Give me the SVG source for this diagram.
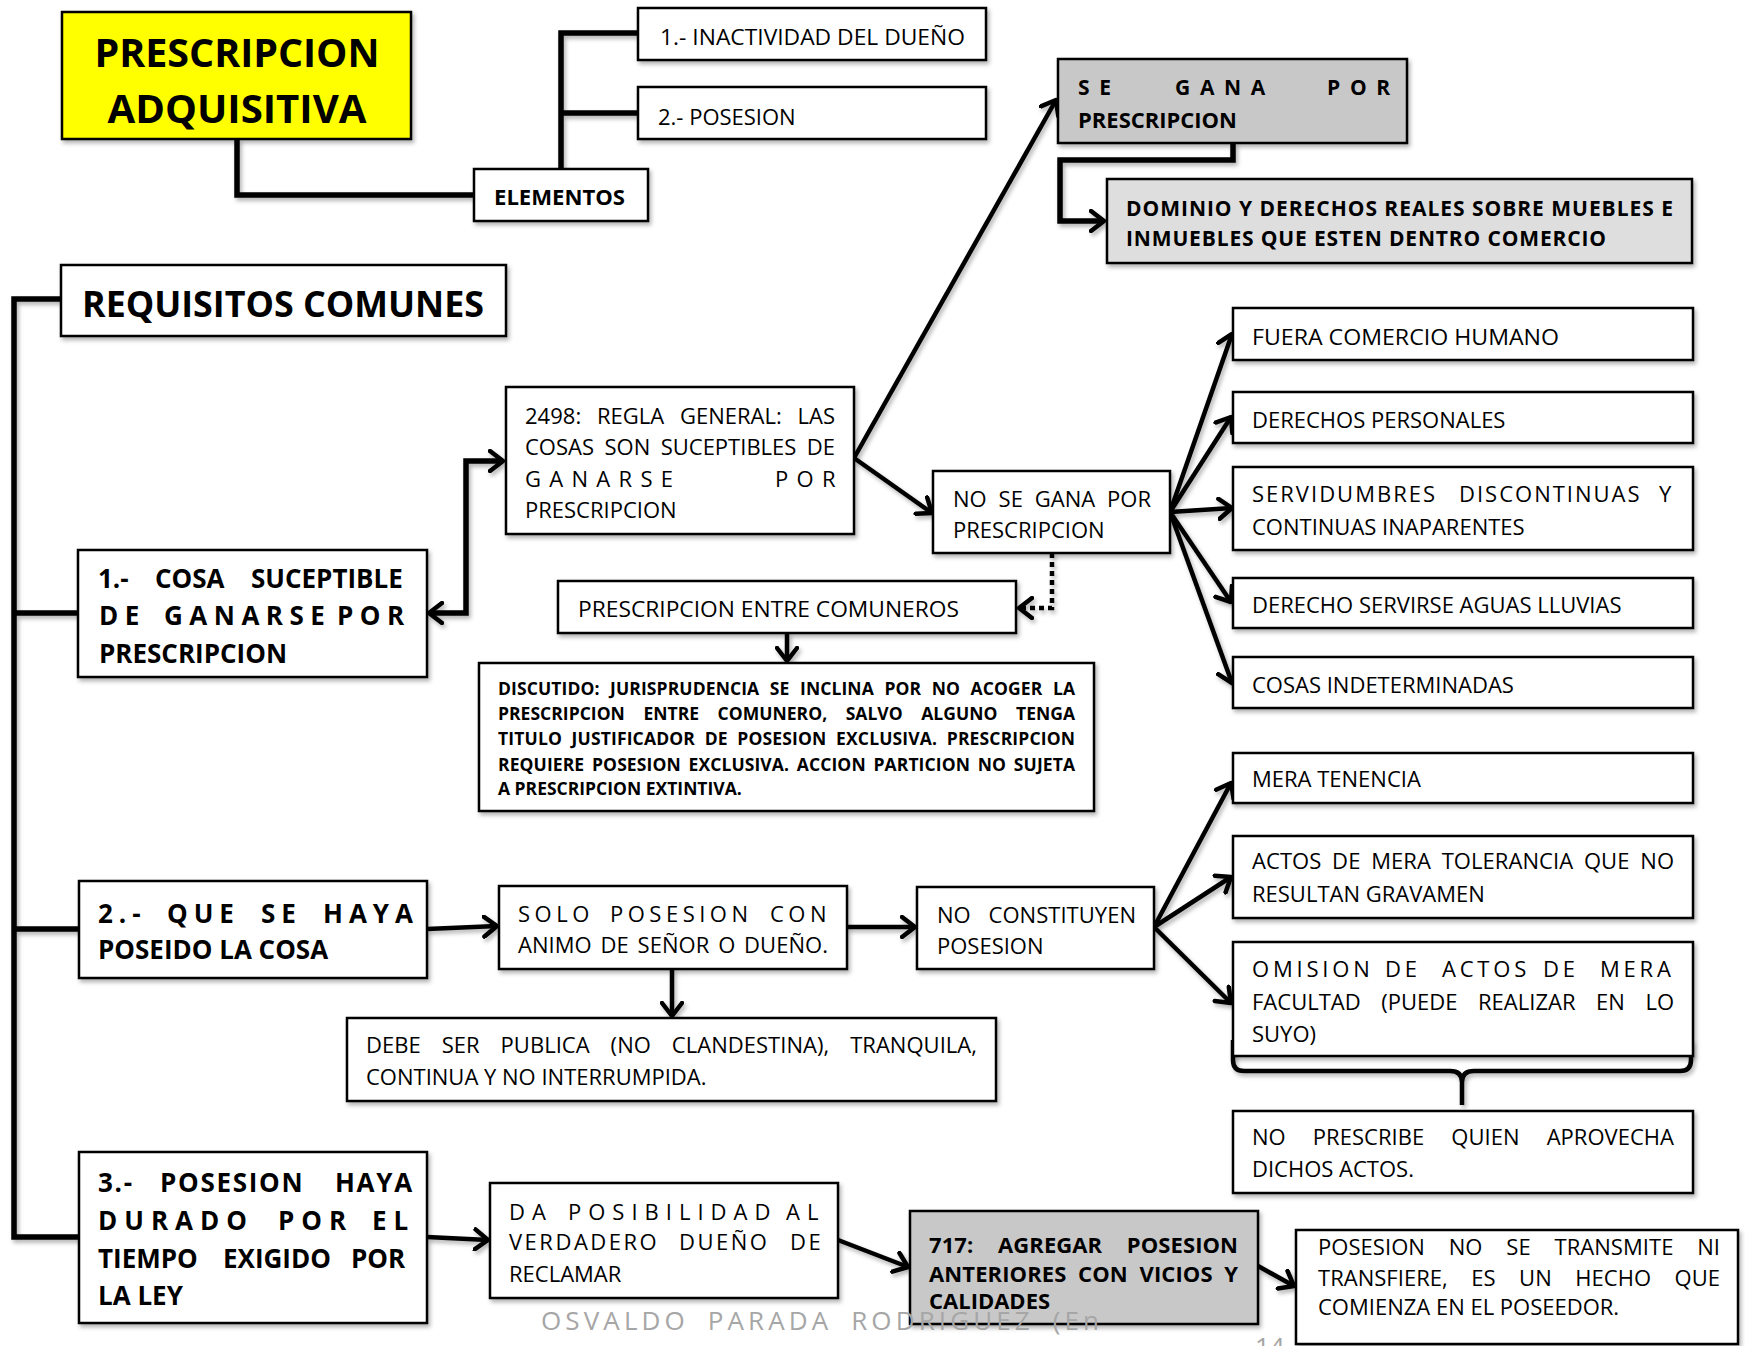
<svg xmlns="http://www.w3.org/2000/svg" width="1745" height="1346" viewBox="0 0 1745 1346">
<defs>
<style>
.bx{fill:#fff;stroke:#000;stroke-width:2.5;filter:url(#sh)}
.gy{fill:#c8c8c8}
.lg{fill:#dedede}
.yl{fill:#ffff00}
text{font-family:'Open Sans','Liberation Sans',sans-serif;fill:#000}
.r{font-size:22px}
.b21{font-size:21px;font-weight:700}
.b22{font-size:22px;font-weight:700}
.b26{font-size:26px;font-weight:700}
.b16{font-size:17.5px;font-weight:700}
.ft{font-size:26px;fill:#a6a6a6}
.ln{fill:none;stroke:#000;stroke-width:4.5}
.th{stroke-width:5.5}
.dot{stroke-dasharray:5 4}
</style>
<marker id="ah" viewBox="0 0 18 24" refX="15" refY="12" markerWidth="18" markerHeight="24" markerUnits="userSpaceOnUse" orient="auto-start-reverse"><path d="M2,2 L15,12 L2,22" fill="none" stroke="#000" stroke-width="4.5" stroke-linecap="round" stroke-linejoin="round"/></marker>
<filter id="sh" x="-5%" y="-5%" width="115%" height="125%"><feDropShadow dx="2" dy="3" stdDeviation="2" flood-color="#000" flood-opacity="0.3"/></filter>
</defs>
<rect width="1745" height="1346" fill="#fff"/>

<g id="connectors" filter="url(#sh)">
<path class="ln th" d="M237,139 V195 H474"/>
<path class="ln th" d="M561,169 V33 H638 M561,113 H638"/>
<path class="ln th" d="M1233,143 V160 H1060 V221 H1104" marker-end="url(#ah)"/>
<path class="ln th" d="M61,299 H14 V1237 H79 M14,613 H78 M14,929 H79"/>
<path class="ln th" d="M429,613 H466 V461 H503" marker-start="url(#ah)" marker-end="url(#ah)"/>
<path class="ln" d="M854,458 L1056,100" marker-end="url(#ah)"/>
<path class="ln" d="M854,458 L932,513" marker-end="url(#ah)"/>
<path class="ln" d="M1170,512 L1232,334" marker-end="url(#ah)"/>
<path class="ln" d="M1170,512 L1231,417" marker-end="url(#ah)"/>
<path class="ln" d="M1170,512 L1232,508" marker-end="url(#ah)"/>
<path class="ln" d="M1170,512 L1231,602" marker-end="url(#ah)"/>
<path class="ln" d="M1170,512 L1232,683" marker-end="url(#ah)"/>
<path class="ln dot" d="M1052,553 V608 H1019" marker-end="url(#ah)"/>
<path class="ln" d="M787,633 V661" marker-end="url(#ah)"/>
<path class="ln" d="M427,929 L497,926" marker-end="url(#ah)"/>
<path class="ln" d="M847,927 L915,927" marker-end="url(#ah)"/>
<path class="ln" d="M672,969 V1016" marker-end="url(#ah)"/>
<path class="ln" d="M1154,927 L1231,783" marker-end="url(#ah)"/>
<path class="ln" d="M1154,927 L1231,877" marker-end="url(#ah)"/>
<path class="ln" d="M1154,927 L1231,1003" marker-end="url(#ah)"/>
<path class="ln" d="M427,1237 L488,1240" marker-end="url(#ah)"/>
<path class="ln" d="M838,1240 L908,1267" marker-end="url(#ah)"/>
<path class="ln" d="M1258,1266 L1294,1286" marker-end="url(#ah)"/>
<path class="ln" d="M1233,1040 V1060 Q1233,1071 1244,1071 H1450 Q1462,1071 1462,1082 V1105 M1462,1082 Q1462,1071 1474,1071 H1680 Q1691,1071 1691,1060 V1040"/>
</g>

<g id="n-titulo">
<rect class="bx yl" x="62" y="12" width="349" height="127"/>
<text class="b22" style="font-size:40px" x="237" y="67" text-anchor="middle" textLength="285" lengthAdjust="spacingAndGlyphs">PRESCRIPCION</text>
<text class="b22" style="font-size:40px" x="237" y="123" text-anchor="middle" textLength="259" lengthAdjust="spacingAndGlyphs">ADQUISITIVA</text>
</g>
<g id="n-elementos">
<rect class="bx" x="474" y="169" width="174" height="52"/>
<text class="b22" x="494" y="205" textLength="131" lengthAdjust="spacingAndGlyphs">ELEMENTOS</text>
</g>
<g id="n-inactividad">
<rect class="bx" x="638" y="8" width="348" height="52"/>
<text class="r" x="660" y="45" textLength="305" lengthAdjust="spacingAndGlyphs">1.- INACTIVIDAD DEL DUEÑO</text>
</g>
<g id="n-posesion">
<rect class="bx" x="638" y="87" width="348" height="52"/>
<text class="r" x="658" y="125">2.- POSESION</text>
</g>
<g id="n-segana">
<rect class="bx gy" x="1058" y="59" width="349" height="84"/>
<text class="b21" y="95" letter-spacing="9.7"><tspan x="1078">SE</tspan> <tspan x="1175">GANA</tspan> <tspan x="1327">POR</tspan></text>
<text class="b21" x="1078" y="128" textLength="159" lengthAdjust="spacingAndGlyphs">PRESCRIPCION</text>
</g>
<g id="n-dominio">
<rect class="bx lg" x="1107" y="179" width="585" height="84"/>
<text class="b21" x="1126" y="216" textLength="547" lengthAdjust="spacing">DOMINIO Y DERECHOS REALES SOBRE MUEBLES E</text>
<text class="b21" x="1126" y="246" textLength="480" lengthAdjust="spacing">INMUEBLES QUE ESTEN DENTRO COMERCIO</text>
</g>
<g id="n-requisitos">
<rect class="bx" x="61" y="265" width="445" height="71"/>
<text class="b22" style="font-size:36px" x="82" y="317" textLength="402" lengthAdjust="spacingAndGlyphs">REQUISITOS COMUNES</text>
</g>
<g id="n-req1">
<rect class="bx" x="78" y="550" width="349" height="127"/>
<text class="b26" y="588"><tspan x="98">1.-</tspan> <tspan x="155">COSA</tspan> <tspan x="251">SUCEPTIBLE</tspan></text>
<text class="b26" y="625" letter-spacing="6.5"><tspan x="99">DE</tspan> <tspan x="164">GANARSE</tspan> <tspan x="337">POR</tspan></text>
<text class="b26" x="99" y="663">PRESCRIPCION</text>
</g>
<g id="n-2498">
<rect class="bx" x="506" y="387" width="348" height="147"/>
<text class="r" x="525" y="424" word-spacing="10" textLength="310" lengthAdjust="spacing">2498: REGLA GENERAL: LAS</text>
<text class="r" x="525" y="455" word-spacing="4.7" textLength="310" lengthAdjust="spacing">COSAS SON SUCEPTIBLES DE</text>
<text class="r" y="487" letter-spacing="8.3"><tspan x="525">GANARSE</tspan> <tspan x="775">POR</tspan></text>
<text class="r" x="525" y="518">PRESCRIPCION</text>
</g>
<g id="n-nosegana">
<rect class="bx" x="933" y="471" width="237" height="82"/>
<text class="r" x="953" y="507" word-spacing="6" textLength="198" lengthAdjust="spacing">NO SE GANA POR</text>
<text class="r" x="953" y="538">PRESCRIPCION</text>
</g>
<g id="n-comuneros">
<rect class="bx" x="558" y="581" width="458" height="52"/>
<text class="r" x="578" y="617" textLength="381" lengthAdjust="spacingAndGlyphs">PRESCRIPCION ENTRE COMUNEROS</text>
</g>
<g id="n-discutido">
<rect class="bx" x="479" y="663" width="615" height="148"/>
<text class="b16" x="498" y="695" word-spacing="5.9" textLength="577" lengthAdjust="spacing">DISCUTIDO: JURISPRUDENCIA SE INCLINA POR NO ACOGER LA</text>
<text class="b16" x="498" y="720" word-spacing="14" textLength="577" lengthAdjust="spacing">PRESCRIPCION ENTRE COMUNERO, SALVO ALGUNO TENGA</text>
<text class="b16" x="498" y="745" word-spacing="4.9" textLength="577" lengthAdjust="spacing">TITULO JUSTIFICADOR DE POSESION EXCLUSIVA. PRESCRIPCION</text>
<text class="b16" x="498" y="771" word-spacing="3.1" textLength="577" lengthAdjust="spacing">REQUIERE POSESION EXCLUSIVA. ACCION PARTICION NO SUJETA</text>
<text class="b16" x="498" y="795">A PRESCRIPCION EXTINTIVA.</text>
</g>
<g id="n-fuera">
<rect class="bx" x="1233" y="308" width="460" height="52"/>
<text class="r" x="1252" y="345" textLength="307" lengthAdjust="spacingAndGlyphs">FUERA COMERCIO HUMANO</text>
</g>
<g id="n-derechos">
<rect class="bx" x="1233" y="392" width="460" height="51"/>
<text class="r" x="1252" y="428">DERECHOS PERSONALES</text>
</g>
<g id="n-servidumbres">
<rect class="bx" x="1233" y="467" width="460" height="83"/>
<text class="r" y="502" letter-spacing="2"><tspan x="1252">SERVIDUMBRES</tspan> <tspan x="1459">DISCONTINUAS</tspan> <tspan x="1659">Y</tspan></text>
<text class="r" x="1252" y="535">CONTINUAS INAPARENTES</text>
</g>
<g id="n-aguas">
<rect class="bx" x="1233" y="578" width="460" height="50"/>
<text class="r" x="1252" y="613">DERECHO SERVIRSE AGUAS LLUVIAS</text>
</g>
<g id="n-indeterminadas">
<rect class="bx" x="1233" y="657" width="460" height="51"/>
<text class="r" x="1252" y="693">COSAS INDETERMINADAS</text>
</g>
<g id="n-tenencia">
<rect class="bx" x="1233" y="753" width="460" height="50"/>
<text class="r" x="1252" y="787">MERA TENENCIA</text>
</g>
<g id="n-tolerancia">
<rect class="bx" x="1233" y="836" width="460" height="82"/>
<text class="r" x="1252" y="869" word-spacing="5" textLength="422" lengthAdjust="spacing">ACTOS DE MERA TOLERANCIA QUE NO</text>
<text class="r" x="1252" y="902">RESULTAN GRAVAMEN</text>
</g>
<g id="n-omision">
<rect class="bx" x="1233" y="942" width="460" height="114"/>
<text class="r" y="977" letter-spacing="3.8"><tspan x="1252">OMISION</tspan> <tspan x="1385">DE</tspan> <tspan x="1442">ACTOS</tspan> <tspan x="1543">DE</tspan> <tspan x="1600">MERA</tspan></text>
<text class="r" x="1252" y="1010" word-spacing="14.8" textLength="422" lengthAdjust="spacing">FACULTAD (PUEDE REALIZAR EN LO</text>
<text class="r" x="1252" y="1042">SUYO)</text>
</g>
<g id="n-noprescribe">
<rect class="bx" x="1233" y="1111" width="460" height="82"/>
<text class="r" x="1252" y="1145" word-spacing="21.4" textLength="422" lengthAdjust="spacing">NO PRESCRIBE QUIEN APROVECHA</text>
<text class="r" x="1252" y="1177">DICHOS ACTOS.</text>
</g>
<g id="n-req2">
<rect class="bx" x="79" y="881" width="348" height="97"/>
<text class="b26" y="923" letter-spacing="6"><tspan x="98">2.-</tspan> <tspan x="167">QUE</tspan> <tspan x="261">SE</tspan> <tspan x="323">HAYA</tspan></text>
<text class="b26" x="98" y="959">POSEIDO LA COSA</text>
</g>
<g id="n-solo">
<rect class="bx" x="499" y="886" width="348" height="83"/>
<text class="r" y="922" letter-spacing="4.5"><tspan x="518">SOLO</tspan> <tspan x="610">POSESION</tspan> <tspan x="770">CON</tspan></text>
<text class="r" x="518" y="953" word-spacing="3" textLength="310" lengthAdjust="spacing">ANIMO DE SEÑOR O DUEÑO.</text>
</g>
<g id="n-noconstituyen">
<rect class="bx" x="917" y="887" width="237" height="82"/>
<text class="r" x="937" y="923" word-spacing="12" textLength="199" lengthAdjust="spacing">NO CONSTITUYEN</text>
<text class="r" x="937" y="954">POSESION</text>
</g>
<g id="n-debe">
<rect class="bx" x="347" y="1018" width="649" height="83"/>
<text class="r" x="366" y="1053" word-spacing="15.2" textLength="611" lengthAdjust="spacing">DEBE SER PUBLICA (NO CLANDESTINA), TRANQUILA,</text>
<text class="r" x="366" y="1085">CONTINUA Y NO INTERRUMPIDA.</text>
</g>
<g id="n-req3">
<rect class="bx" x="79" y="1152" width="348" height="171"/>
<text class="b26" y="1192" letter-spacing="1.7"><tspan x="98">3.-</tspan> <tspan x="160">POSESION</tspan> <tspan x="335">HAYA</tspan></text>
<text class="b26" y="1230" letter-spacing="7"><tspan x="98">DURADO</tspan> <tspan x="278">POR</tspan> <tspan x="372">EL</tspan></text>
<text class="b26" y="1268"><tspan x="98">TIEMPO</tspan> <tspan x="223">EXIGIDO</tspan> <tspan x="351">POR</tspan></text>
<text class="b26" x="98" y="1305">LA LEY</text>
</g>
<g id="n-posibilidad">
<rect class="bx" x="490" y="1183" width="348" height="115"/>
<text class="r" y="1220" letter-spacing="7"><tspan x="509">DA</tspan> <tspan x="568">POSIBILIDAD</tspan> <tspan x="786">AL</tspan></text>
<text class="r" y="1250" letter-spacing="2.5"><tspan x="509">VERDADERO</tspan> <tspan x="679">DUEÑO</tspan> <tspan x="790">DE</tspan></text>
<text class="r" x="509" y="1282">RECLAMAR</text>
</g>
<g id="n-717">
<rect class="bx gy" x="910" y="1211" width="348" height="113"/>
<text class="b22" x="929" y="1253" word-spacing="18.8" textLength="309" lengthAdjust="spacing">717: AGREGAR POSESION</text>
<text class="b22" x="929" y="1282" word-spacing="5.8" textLength="309" lengthAdjust="spacing">ANTERIORES CON VICIOS Y</text>
<text class="b22" x="929" y="1309">CALIDADES</text>
</g>
<g id="n-transmite">
<rect class="bx" x="1296" y="1230" width="442" height="114"/>
<text class="r" x="1318" y="1255" word-spacing="18" textLength="402" lengthAdjust="spacing">POSESION NO SE TRANSMITE NI</text>
<text class="r" x="1318" y="1286" word-spacing="17.8" textLength="402" lengthAdjust="spacing">TRANSFIERE, ES UN HECHO QUE</text>
<text class="r" x="1318" y="1315">COMIENZA EN EL POSEEDOR.</text>
</g>
<g id="footer">
<text class="ft" x="541" y="1330" letter-spacing="4" word-spacing="8" textLength="562" lengthAdjust="spacing">OSVALDO PARADA RODRIGUEZ (En</text>
<text class="ft" x="1255" y="1356">14</text>
</g>
</svg>
